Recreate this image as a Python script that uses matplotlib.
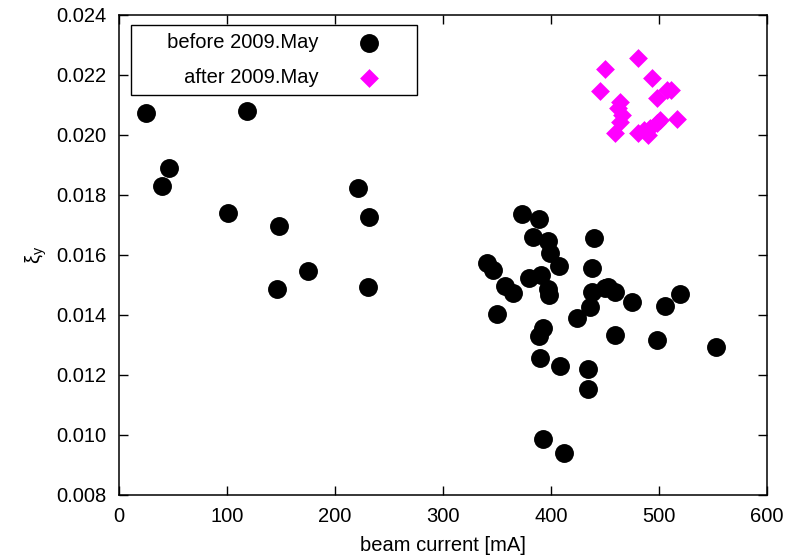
import matplotlib
matplotlib.use("Agg")
import matplotlib.pyplot as plt

plt.rcParams["font.family"] = ["Liberation Sans", "DejaVu Sans"]
plt.rcParams["mathtext.fontset"] = "custom"
plt.rcParams["mathtext.rm"] = "Liberation Sans"
plt.rcParams["mathtext.it"] = "Liberation Sans"

# beam current [mA] and xi_y, before 2009.May
before_x = [24.7, 118.5, 46.3, 39.5, 100.6, 147.8, 221.0, 231.8, 175.3, 146.0, 230.2,
            372.9, 388.9, 383.6, 396.9, 399.0, 407.7, 440.0, 437.7,
            340.4, 346.6, 357.4, 365.0, 380.0, 390.4, 397.5, 397.8, 350.3,
            437.7, 436.0, 423.8, 450.0, 453.0, 459.0, 475.3, 505.6, 519.4,
            392.3, 388.5, 390.0, 408.0, 434.5, 434.0, 392.5, 412.0, 459.0,
            498.0, 553.0]
before_y = [0.02074, 0.02081, 0.01889, 0.01831, 0.01741, 0.01698, 0.01824, 0.01726,
            0.01547, 0.01486, 0.01493,
            0.01736, 0.01720, 0.01661, 0.01648, 0.01606, 0.01564, 0.01656, 0.01556,
            0.01572, 0.01550, 0.01497, 0.01474, 0.01522, 0.01533, 0.01485, 0.01465,
            0.01403, 0.01478, 0.01428, 0.01389, 0.01489, 0.01492, 0.01478, 0.01444,
            0.01430, 0.01469, 0.01358, 0.01330, 0.01255, 0.01230, 0.01220, 0.01152,
            0.00985, 0.00940, 0.01332, 0.01318, 0.01293]

# after 2009.May
after_x = [480.8, 450.0, 445.4, 493.2, 463.9, 462.4, 465.4, 463.9, 459.3, 516.4,
           480.8, 490.0, 497.8, 491.7, 500.9, 507.0, 497.8, 511.0, 486.0]
after_y = [0.02256, 0.02220, 0.02147, 0.02189, 0.02111, 0.02089, 0.02067, 0.02044,
           0.02006, 0.02052, 0.02006, 0.02000, 0.02039, 0.02022, 0.02050, 0.02150,
           0.02122, 0.02150, 0.02015]

FS = 14.5

fig = plt.figure(figsize=(7.87, 5.59), dpi=100)
ax = fig.add_axes([0.1512, 0.1145, 0.8234, 0.8587])

ax.scatter(before_x, before_y, s=185, marker="o", color="black", linewidths=0,
           label="     before 2009.May", zorder=3)
ax.scatter(after_x, after_y, s=92, marker="D", color="#ff00ff", linewidths=0,
           label="     after 2009.May", zorder=3)

ax.set_xlim(0, 600)
ax.set_ylim(0.008, 0.024)
ax.set_xticks(range(0, 601, 100))
ax.set_yticks([0.008 + 0.002 * i for i in range(9)])
ax.set_yticklabels([f"{0.008 + 0.002 * i:.3f}" for i in range(9)])
ax.tick_params(direction="in", length=6.7, width=1, top=True, right=True,
               labelsize=FS)
ax.tick_params(axis="y", pad=9)
ax.tick_params(axis="x", pad=9)
for sp in ax.spines.values():
    sp.set_linewidth(1.1)

ax.set_xlabel("beam current [mA]", fontsize=FS, labelpad=7)
ax.set_ylabel(r"$\xi_y$", fontsize=FS, labelpad=5)

leg = ax.legend(loc="upper left", bbox_to_anchor=(0.0185, 0.979), markerfirst=False,
                fontsize=FS, frameon=True, fancybox=False, framealpha=1,
                edgecolor="black", borderpad=0.4, labelspacing=0.8,
                handlelength=4.0, handletextpad=0.5, borderaxespad=0,
                scatterpoints=1)
leg.get_frame().set_linewidth(1.0)
for t in leg.get_texts():
    t.set_ha("right")

fig.savefig("out.png", dpi=100)
